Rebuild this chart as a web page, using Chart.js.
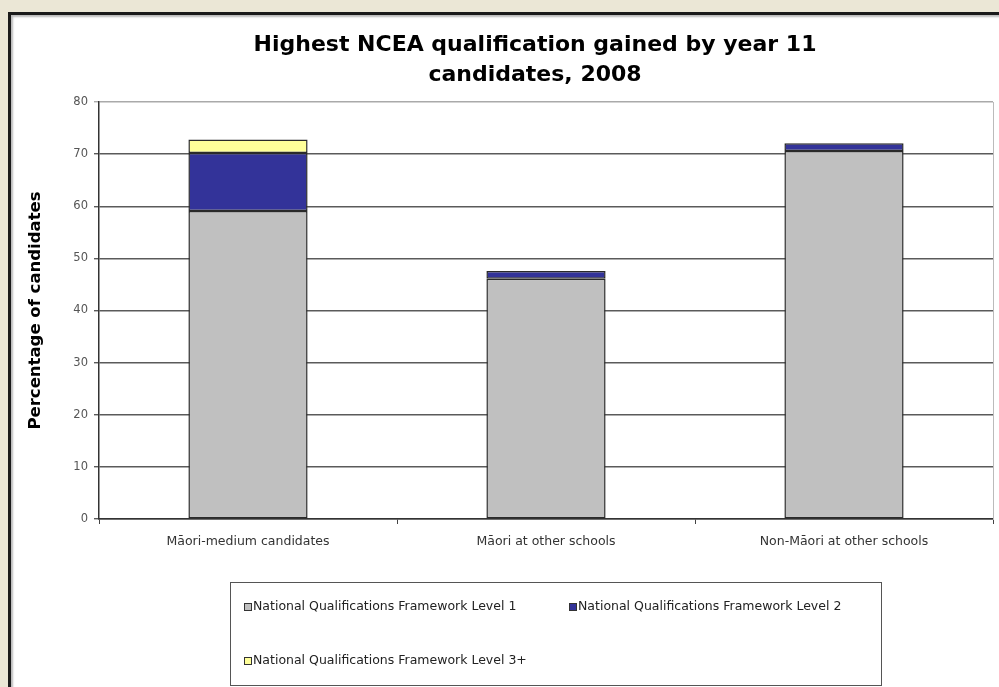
<!DOCTYPE html>
<html>
<head>
<meta charset="utf-8">
<script src="https://cdn.jsdelivr.net/npm/chart.js@4/dist/chart.umd.min.js"></script>
<style>
  html, body { margin: 0; padding: 0; width: 999px; height: 687px; overflow: hidden; background: #ebe7d6; }
  #panel { position: absolute; left: 8px; top: 12px; width: 1000px; height: 700px; background: #fff;
           border-left: 3px solid #1b1b1b; border-top: 3px solid #1b1b1b; box-shadow: inset 2px 2px 2px #bbb; }
  #c { position: absolute; left: 0; top: 0; }
</style>
</head>
<body>
<div id="panel"></div>
<canvas id="c" width="999" height="687"></canvas>
<script>
const titleLines = ['Highest NCEA qualification gained by year 11', 'candidates, 2008'];
const yTitle = 'Percentage of candidates';
const categories = ['Māori-medium candidates', 'Māori at other schools', 'Non-Māori at other schools'];
const seriesNames = ['National Qualifications Framework Level 1', 'National Qualifications Framework Level 2', 'National Qualifications Framework Level 3+'];
const level1 = [59.1, 46.1, 70.6];
const level2 = [11.1, 1.5, 1.5];
const level3 = [2.6, 0, 0];
const yTicks = [0, 10, 20, 30, 40, 50, 60, 70, 80];
const colors = ['#c0c0c0', '#333399', '#ffff99'];

const FONT = "'DejaVu Sans', sans-serif";

const shiftTitle = {
  id: 'shiftTitle',
  afterLayout(chart) {
    const t = chart.titleBlock;
    if (t) { t.left -= 22; t.width = t.right - t.left; }
  }
};

const legendBox = {
  id: 'legendBox',
  afterDraw(chart) {
    const ctx = chart.ctx;
    ctx.save();
    ctx.strokeStyle = '#555';
    ctx.lineWidth = 1;
    ctx.strokeRect(230.5, 582.5, 651, 103);
    const spots = [[248, 607], [573, 607], [248, 661]];
    ctx.font = '12.5px ' + FONT;
    ctx.textBaseline = 'middle';
    ctx.textAlign = 'left';
    chart.data.datasets.forEach((ds, i) => {
      const [x, y] = spots[i];
      ctx.fillStyle = ds.backgroundColor;
      ctx.fillRect(x - 3, y - 3, 6, 6);
      ctx.strokeStyle = '#333';
      ctx.strokeRect(x - 3.5, y - 3.5, 7, 7);
      ctx.fillStyle = '#222';
      ctx.fillText(ds.label, x + 5, y);
    });
    ctx.restore();
  }
};

new Chart(document.getElementById('c'), {
  type: 'bar',
  data: {
    labels: categories,
    datasets: [
      { label: seriesNames[0], data: level1, backgroundColor: colors[0] },
      { label: seriesNames[1], data: level2, backgroundColor: colors[1] },
      { label: seriesNames[2], data: level3, backgroundColor: colors[2] }
    ].map(d => Object.assign(d, { borderColor: '#2a2a2a', borderWidth: 1.5, borderSkipped: false,
                                  barPercentage: 0.4, categoryPercentage: 1.0 }))
  },
  options: {
    responsive: false,
    devicePixelRatio: 1,
    animation: false,
    layout: { padding: { left: 20, right: 6, top: 0, bottom: 128 } },
    plugins: {
      legend: { display: false },
      tooltip: { enabled: false },
      title: {
        display: true, text: titleLines, fullSize: false, color: '#000',
        font: { family: FONT, size: 22, weight: 'bold', lineHeight: '30px' },
        padding: { top: 30, bottom: 12 }
      }
    },
    scales: {
      x: {
        stacked: true,
        grid: { offset: true, drawOnChartArea: false, tickLength: 5, color: '#444' },
        border: { color: '#333', width: 1.5 },
        ticks: { font: { family: FONT, size: 12.5 }, color: '#333', padding: 10 },
        afterFit(s) { s.height = 40; }
      },
      y: {
        stacked: true, min: 0, max: 80,
        afterBuildTicks(s) { s.ticks = yTicks.map(v => ({ value: v })); },
        grid: { tickLength: 5, color: ctx => (ctx.tick && ctx.tick.value === 80 ? '#aaa' : '#5a5a5a'), lineWidth: 1.4 },
        border: { color: '#333', width: 1.5 },
        ticks: { font: { family: FONT, size: 11.5 }, color: '#555', padding: 6 },
        title: { display: true, text: yTitle, color: '#000', font: { family: FONT, size: 16.5, weight: 'bold' }, padding: { top: 6, bottom: 0 } },
        afterFit(s) { s.width = 79; }
      },
      y2: {
        position: 'right', min: 0, max: 80, display: true,
        ticks: { display: false },
        grid: { drawOnChartArea: false, drawTicks: false },
        border: { color: '#bbb', width: 1 },
        afterFit(s) { s.width = 0; }
      }
    }
  },
  plugins: [shiftTitle, legendBox]
});
</script>
</body>
</html>
